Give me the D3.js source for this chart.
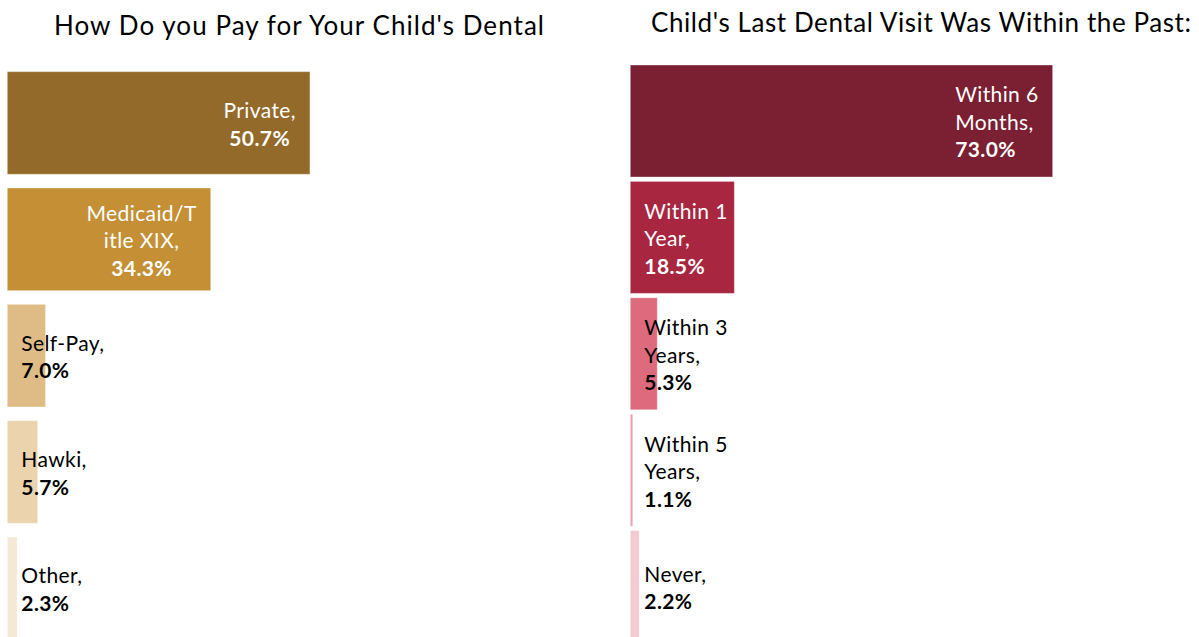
<!DOCTYPE html>
<html>
<head>
<meta charset="utf-8">
<script src="https://cdn.jsdelivr.net/npm/d3@7/dist/d3.min.js"></script>
<style>
  html, body { margin: 0; padding: 0; background: #fff; }
  svg { display: block; font-family: "Gill Sans MT", "Gill Sans", Lato, sans-serif; }
</style>
</head>
<body>
<svg id="chart" width="1199" height="637"></svg>
<script>
// ---- Data ----
const payTitle = "How Do you Pay for Your Child's Dental";
const payCategories = ["Private", "Medicaid/Title XIX", "Self-Pay", "Hawki", "Other"];
const payLabelLines = [["Private,"], ["Medicaid/T", "itle XIX,"], ["Self-Pay,"], ["Hawki,"], ["Other,"]];
const payValues = [50.7, 34.3, 7.0, 5.7, 2.3];
const payColors = ["#936A2A", "#C48F35", "#DFBC85", "#EBD4AD", "#F5E8D6"];

const visitTitle = "Child's Last Dental Visit Was Within the Past:";
const visitCategories = ["Within 6 Months", "Within 1 Year", "Within 3 Years", "Within 5 Years", "Never"];
const visitLabelLines = [["Within 6", "Months,"], ["Within 1", "Year,"], ["Within 3", "Years,"], ["Within 5", "Years,"], ["Never,"]];
const visitValues = [73.0, 18.5, 5.3, 1.1, 2.2];
const visitColors = ["#7B1F32", "#A8263F", "#DE6A7E", "#E8A1AE", "#F3CBD3"];

const svg = d3.select("#chart");

function drawPanel(cfg) {
  const g = svg.append("g");
  const x = d3.scaleLinear().domain(cfg.xDomain).range(cfg.xRange);
  const y = d3.scaleBand().domain(cfg.categories).range(cfg.yRange)
    .paddingInner(cfg.padInner).paddingOuter(cfg.padOuter);

  g.append("text")
    .attr("x", cfg.titleX).attr("y", cfg.titleY)
    .attr("text-anchor", "middle")
    .attr("font-size", cfg.titleSize)
    .attr("textLength", cfg.titleWidth)
    .attr("lengthAdjust", "spacing")
    .attr("fill", "#000")
    .text(cfg.title);

  const x0 = x(cfg.xDomain[0]);
  g.selectAll("rect.bar").data(cfg.categories).join("rect")
    .attr("class", "bar")
    .attr("x", x0)
    .attr("y", d => y(d))
    .attr("width", (d, i) => x(cfg.values[i]) - x0)
    .attr("height", y.bandwidth())
    .attr("fill", (d, i) => cfg.colors[i])
    .attr("stroke", "#ffffff").attr("stroke-opacity", 0.35).attr("stroke-width", 1);

  const fs = cfg.labelSize, lh = cfg.lineHeight;
  cfg.categories.forEach((c, i) => {
    const lines = cfg.labelLines[i].map(t => ({ t, bold: false }));
    lines.push({ t: cfg.values[i].toFixed(1) + "%", bold: true });
    const tg = g.append("g");
    const texts = lines.map((ln, k) => tg.append("text")
      .attr("font-size", fs)
      .attr("letter-spacing", cfg.labelSpacing)
      .attr("font-weight", ln.bold ? "bold" : "normal")
      .text(ln.t));
    const widths = texts.map(t => t.node().getComputedTextLength());
    const bw = d3.max(widths);
    const barStart = x0, barEnd = x(cfg.values[i]);
    const endPos = barEnd - 14 - bw;
    const clamped = endPos < barStart + 14;
    const left = clamped ? barStart + 14 : endPos;
    const inside = (barEnd - barStart) > bw;
    const centered = cfg.align === "center" && !clamped;
    const cy = y(c) + y.bandwidth() / 2;
    const n = lines.length;
    texts.forEach((t, k) => {
      t.attr("x", centered ? left + bw / 2 : left)
        .attr("y", cy + 8.8 + (k - (n - 1) / 2) * lh)
        .attr("text-anchor", centered ? "middle" : "start")
        .attr("fill", inside ? "#ffffff" : "#000000");
    });
  });
}

drawPanel({
  title: payTitle, titleX: 299, titleY: 35, titleSize: 26, titleWidth: 490,
  categories: payCategories, labelLines: payLabelLines, values: payValues, colors: payColors,
  xDomain: [0.68, 60], xRange: [7.3, 366.2],
  yRange: [64.8, 646.5], padInner: 0.118, padOuter: 0.059,
  labelSize: 21, labelSpacing: 0.4, lineHeight: 27.5, align: "center"
});

drawPanel({
  title: visitTitle, titleX: 921, titleY: 32, titleSize: 26, titleWidth: 540,
  categories: visitCategories, labelLines: visitLabelLines, values: visitValues, colors: visitColors,
  xDomain: [0.68, 80], xRange: [630.3, 1093.5],
  yRange: [62.8, 644.8], padInner: 0.038, padOuter: 0.019,
  labelSize: 21, labelSpacing: 0.4, lineHeight: 27.5, align: "left"
});
</script>
</body>
</html>
